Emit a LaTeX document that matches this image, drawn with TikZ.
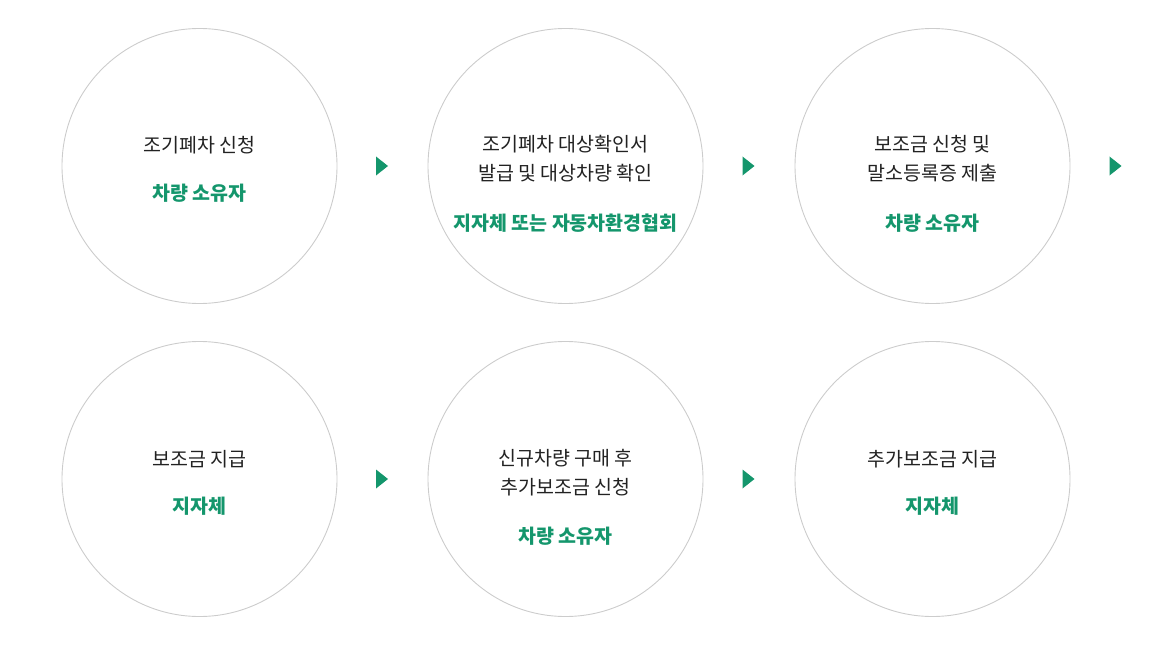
\documentclass[tikz,border=0pt]{standalone}
\usepackage{fontspec}
\setmainfont{Noto Sans CJK KR}
\definecolor{txtdark}{HTML}{222222}
\definecolor{accent}{HTML}{14966C}
\definecolor{ring}{HTML}{CCCCCC}
\begin{document}
\begin{tikzpicture}[x=1pt,y=-1pt,
  stepcircle/.style={circle,draw=ring,line width=0.9pt,minimum size=275pt,inner sep=0pt},
  titletext/.style={anchor=base,text=txtdark,font=\fontsize{19.5}{19.5}\selectfont,inner sep=0pt},
  whotext/.style={anchor=base,text=accent,font=\fontsize{19.5}{19.5}\selectfont\bfseries,inner sep=0pt},
  marker/.style={fill=accent}]
\useasboundingbox (0,0) rectangle (1155,647);
% circles
\node[stepcircle] (c1) at (199.5,166) {};
\node[stepcircle] (c2) at (565.5,166) {};
\node[stepcircle] (c3) at (932.5,166) {};
\node[stepcircle] (c4) at (199.5,479) {};
\node[stepcircle] (c5) at (565.5,479) {};
\node[stepcircle] (c6) at (932.5,479) {};
% texts circle 1
\node[titletext] (c1a) at ([yshift=13pt]c1.center) {조기폐차 신청};
\node[whotext] (c1b) at ([yshift=-34.5pt]c1.center) {차량 소유자};
% circle 2
\node[titletext] (c2a) at ([yshift=14pt]c2.center) {조기폐차 대상확인서};
\node[titletext] (c2b) at ([yshift=-15pt]c2.center) {발급 및 대상차량 확인};
\node[whotext] (c2c) at ([yshift=-64pt]c2.center) {지자체 또는 자동차환경협회};
% circle 3
\node[titletext] (c3a) at ([yshift=14pt]c3.center) {보조금 신청 및};
\node[titletext] (c3b) at ([yshift=-15pt]c3.center) {말소등록증 제출};
\node[whotext] (c3c) at ([yshift=-64pt]c3.center) {차량 소유자};
% circle 4
\node[titletext] (c4a) at ([yshift=13pt]c4.center) {보조금 지급};
\node[whotext] (c4b) at ([yshift=-34.5pt]c4.center) {지자체};
% circle 5
\node[titletext] (c5a) at ([yshift=14pt]c5.center) {신규차량 구매 후};
\node[titletext] (c5b) at ([yshift=-15pt]c5.center) {추가보조금 신청};
\node[whotext] (c5c) at ([yshift=-64pt]c5.center) {차량 소유자};
% circle 6
\node[titletext] (c6a) at ([yshift=13pt]c6.center) {추가보조금 지급};
\node[whotext] (c6b) at ([yshift=-34.5pt]c6.center) {지자체};
% markers
\coordinate (m1) at (376,166);
\coordinate (m2) at (742.5,166);
\coordinate (m3) at (1109.5,166);
\coordinate (m4) at (376,479);
\coordinate (m5) at (742.5,479);
\foreach \m in {m1,m2,m3,m4,m5}{
  \fill[marker] ([yshift=9.5pt]\m) -- ([xshift=12pt]\m) -- ([yshift=-9.5pt]\m) -- cycle;
}
\end{tikzpicture}
\end{document}
